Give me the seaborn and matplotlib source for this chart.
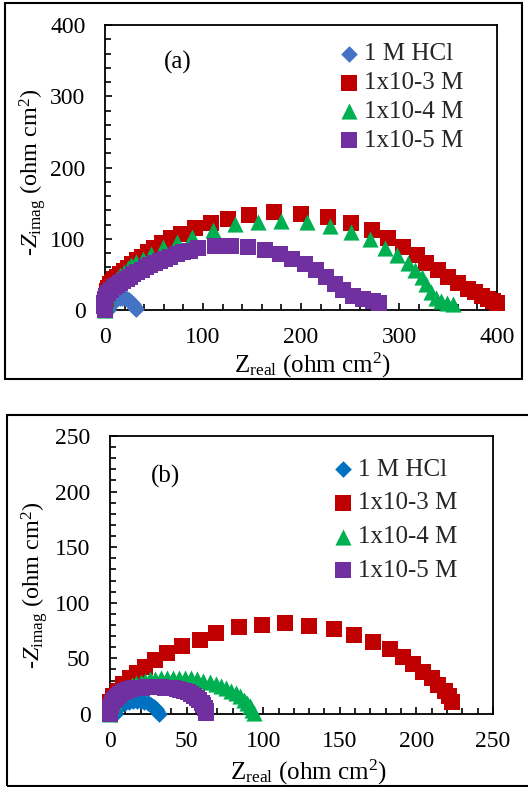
import matplotlib
matplotlib.use('Agg')
import matplotlib.pyplot as plt
import seaborn as sns
from matplotlib.ticker import MultipleLocator
from matplotlib.patches import Rectangle

# ---------------- data ----------------
labels = ['1 M HCl', '1x10-3 M', '1x10-4 M', '1x10-5 M']

# panel (a)
a_hcl_x = [3, 3.5, 4.5, 6, 8, 10, 12.5, 15, 17.5, 20, 22.5, 24.5, 26.5, 28.5, 30, 31, 32]
a_hcl_y = [0, 3, 6, 9, 11.5, 13.5, 15.3, 16.5, 17, 16.8, 15.8, 14, 11.8, 9, 6.3, 3.5, 0.8]

a_m3_x = [0, 0, 0.5, 1, 2, 3, 5, 7, 9.5, 12, 15, 19, 23, 28, 33, 38, 44, 50, 58, 67, 78, 92,
          108, 125, 147, 172, 200, 228, 251, 272, 289, 304, 318, 328, 340, 350, 360, 370, 378,
          385, 391, 396, 400]
a_m3_y = [3, 8, 14, 20, 26, 31, 36, 40, 44, 47, 51, 55, 59, 65, 70, 75, 81, 87, 94, 101, 107, 115,
          122, 128, 133, 137, 135, 130, 122, 112, 101, 89, 77, 66, 56, 47, 38, 30, 25,
          20, 16, 13, 10]

a_m4_x = [0, 0, 0.5, 1, 2, 3.5, 5, 7, 9.5, 12, 15, 19, 23, 27, 32, 39, 47, 59, 73, 89, 110, 133,
          156, 180, 206, 230, 251, 270, 286, 298, 309, 316, 323, 328, 333, 338, 343, 349, 355]
a_m4_y = [0, 4, 9, 14, 19, 24, 29, 34, 39, 44, 49, 54, 59, 63, 67, 72, 79, 88, 96, 103, 112, 121,
          124, 125, 124, 118, 110, 99, 87, 77, 66, 56, 47, 36, 25, 17, 13, 10, 8]

a_m5_x = [0, -1, -1, 0, 1.5, 3.5, 6, 9, 12, 15, 18.5, 22, 25.5, 29, 33, 37.5, 42, 46, 51, 56, 61,
          66, 73, 80, 87, 95, 112, 129, 146, 163, 179, 191, 204, 215, 226, 235, 243, 253, 263,
          273, 280]
a_m5_y = [0, 5, 10, 15, 20, 24, 28, 32, 35, 38, 41, 44, 47, 50, 53, 56, 60, 63, 66, 69, 72,
          75, 78, 81, 83, 87, 90, 90, 89, 84, 79, 72, 65, 56, 46, 37, 28, 20, 16,
          12, 10]

# panel (b)
b_hcl_x = [3, 3.5, 4.5, 6, 8, 10, 12.5, 15, 17.5, 20, 22.5, 24.5, 26.5, 28.5, 30, 31, 32]
b_hcl_y = [0, 2.5, 5, 7, 8.8, 10, 11, 11.6, 11.8, 11.6, 11, 10, 8.5, 6.5, 4.5, 2.3, 0.3]

b_m3_x = [0, 0, 0, 2, 5, 8.5, 13, 17.5, 23, 29.5, 37, 47, 58.5, 69, 84, 99, 114, 130, 146, 159,
          172, 182.5, 191, 198, 204.5, 210, 214, 218.5, 221.5, 223]
b_m3_y = [3, 7, 11, 16, 21, 27, 32, 37, 42.5, 48.5, 54.5, 61, 66.5, 72.5, 78.5, 80, 81.5, 79.5, 76, 71,
          65, 58, 51.5, 45, 38, 32, 26, 21, 16, 11]

b_m4_x = [0, 0, 0.5, 1.5, 2.5, 4, 5.5, 7.5, 9.5, 12, 14.5, 17, 20, 23, 26, 29.5, 33, 37, 41, 45,
          49, 53, 57, 61, 65, 69, 72.5, 76, 79, 82, 85, 87.5, 89.5, 91.5, 93, 94]
b_m4_y = [0, 3, 6, 9, 12, 15, 17.5, 20, 22, 24, 26, 27.5, 29, 30, 31, 31.5, 32, 32.3, 32.5, 32.5,
          32.3, 32, 31, 30, 28.5, 27, 25, 23, 21, 18.5, 16, 13, 10, 7, 4, 1]

b_m5_x = [0, 0, 0.3, 0.8, 1.5, 2.5, 3.7, 5, 6.5, 8.2, 10, 12, 14, 16, 18.5, 21, 23.5, 26, 28.5,
          31, 33.5, 36, 38.5, 41, 43.5, 46, 48.5, 51, 53, 55, 56.8, 58.4, 59.8, 61, 61.8, 62.4, 62.8]
b_m5_y = [0, 2.5, 5, 7.5, 10, 12.5, 14.5, 16.3, 18, 19.5, 20.7, 21.7, 22.5, 23, 23.4, 23.7, 23.9, 24,
          24, 24, 23.9, 23.7, 23.4, 23, 22.4, 21.6, 20.6, 19.4, 18, 16.4, 14.6, 12.5, 10.3, 8, 5.5, 3, 0.8]

# ---------------- style ----------------
sns.set_theme(style='white')
plt.rcParams['font.family'] = ['Liberation Serif', 'DejaVu Serif']
plt.rcParams['mathtext.fontset'] = 'custom'
plt.rcParams['mathtext.rm'] = 'Liberation Serif'
plt.rcParams['mathtext.it'] = 'Liberation Serif:italic'

markers = ['D', 's', '^', 's']
sizes = [72, 128, 135, 128]
colors_a = ['#4472C4', '#C00000', '#00B050', '#7030A0']
colors_b = ['#0070C0', '#C00000', '#00B050', '#7030A0']

fig = plt.figure(figsize=(5.28, 7.87), dpi=100)
axA = fig.add_axes([0.1989, 0.6061, 0.7424, 0.3621])
axB = fig.add_axes([0.2083, 0.0928, 0.7254, 0.3532])

panels = [
    (axA, [(a_hcl_x, a_hcl_y), (a_m3_x, a_m3_y), (a_m4_x, a_m4_y), (a_m5_x, a_m5_y)], colors_a,
     400, 100, 20, '(a)', (0.186, 0.870), (0.598, 0.937), 0.25,
     (0.53, -0.193), (-0.185, 0.484)),
    (axB, [(b_hcl_x, b_hcl_y), (b_m3_x, b_m3_y), (b_m4_x, b_m4_y), (b_m5_x, b_m5_y)], colors_b,
     250, 50, 10, '(b)', (0.146, 0.856), (0.581, 0.920), 0.45,
     (0.517, -0.209), (-0.198, 0.464)),
]

for (ax, series, cols, lim, major, minor, tag, tagpos, legpos, lspace, xlpos, ylpos) in panels:
    for (xs, ys), lab, mk, sz, c in zip(series, labels, markers, sizes, cols):
        sns.scatterplot(x=xs, y=ys, ax=ax, marker=mk, s=sz, color=c, linewidth=0,
                        label=lab, clip_on=False, zorder=3)
    ax.set_xlim(0, lim)
    ax.set_ylim(0, lim)
    ax.xaxis.set_major_locator(MultipleLocator(major))
    ax.yaxis.set_major_locator(MultipleLocator(major))
    ax.xaxis.set_minor_locator(MultipleLocator(minor))
    ax.yaxis.set_minor_locator(MultipleLocator(minor))
    ax.tick_params(which='both', direction='in', color='black', width=1.2,
                   bottom=True, left=True, top=False, right=False)
    ax.tick_params(which='major', length=5, labelsize=17, labelcolor='black')
    ax.tick_params(which='minor', length=4)
    ax.tick_params(axis='x', which='major', pad=12)
    ax.tick_params(axis='y', which='major', pad=14)
    for sp in ax.spines.values():
        sp.set_color('black')
        sp.set_linewidth(1.3)
    ax.set_xlabel(r'Z$_{\mathrm{real}}$ (ohm cm$^{2}$)', fontsize=18, color='black')
    ax.set_ylabel(r'-$\mathit{Z}_{\mathrm{imag}}$ (ohm cm$^{2}$)', fontsize=17.5, color='black')
    ax.xaxis.set_label_coords(*xlpos)
    ax.yaxis.set_label_coords(*ylpos)
    ax.xaxis.label.set_va('center')
    ax.yaxis.label.set_va('center')
    ax.text(tagpos[0], tagpos[1], tag, transform=ax.transAxes, fontsize=18,
            ha='center', va='center', color='black')
    ax.legend(loc='upper left', bbox_to_anchor=legpos, frameon=False, fontsize=18,
              handlelength=0.8, handletextpad=0.2, labelspacing=lspace, borderpad=0,
              borderaxespad=0)

# panel borders
fig.add_artist(Rectangle((5 / 528, 1 - 379 / 787), 517 / 528, 376 / 787,
                         transform=fig.transFigure, fill=False, edgecolor='black', linewidth=1.5))
fig.add_artist(Rectangle((7 / 528, 1 - 786 / 787), 530 / 528, 371 / 787,
                         transform=fig.transFigure, fill=False, edgecolor='black', linewidth=1.5))

fig.savefig('out.png', dpi=100)
